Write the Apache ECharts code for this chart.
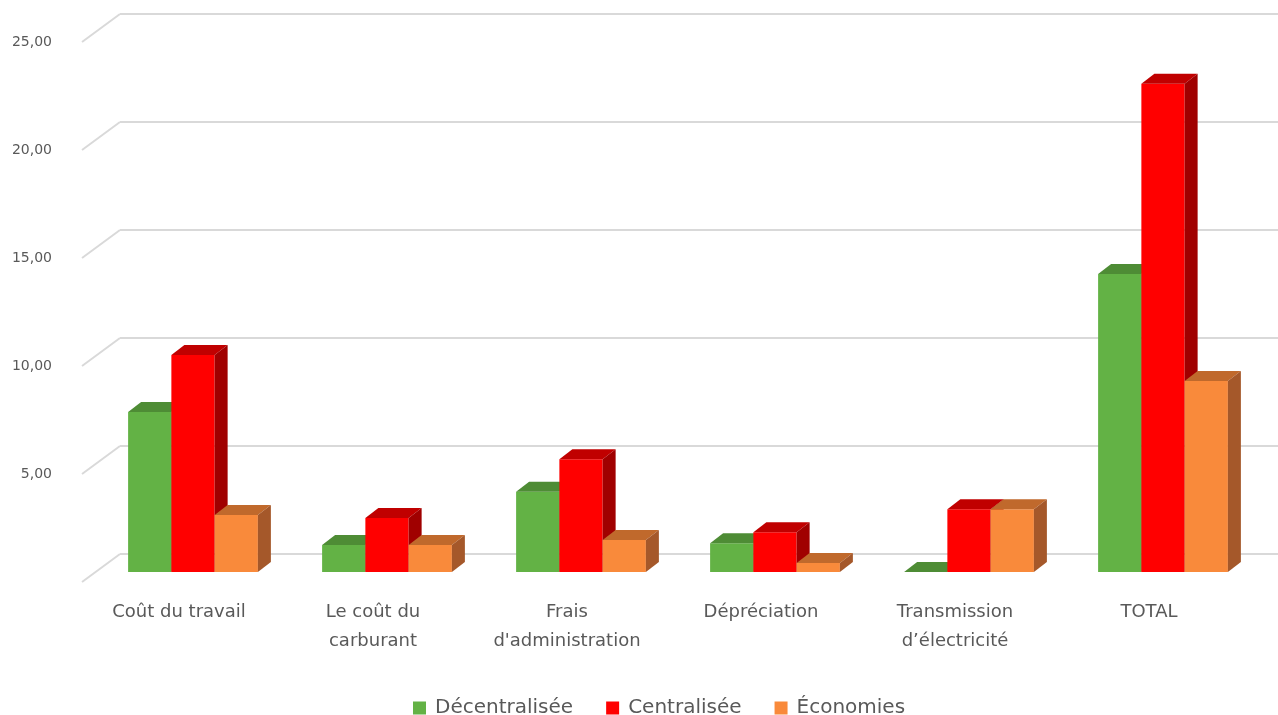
<!DOCTYPE html>
<html>
<head>
<meta charset="utf-8">
<script src="https://cdn.jsdelivr.net/npm/echarts@6/dist/echarts.min.js"></script>
<style>
  html, body { margin: 0; padding: 0; background: #fff; }
  #chart { width: 1278px; height: 715px; }
</style>
</head>
<body>
<div id="chart"></div>
<script>
const categories = ['Coût du travail', 'Le coût du\ncarburant', 'Frais\nd\'administration', 'Dépréciation', 'Transmission\nd’électricité', 'TOTAL'];
const decentralisee = [7.41, 1.25, 3.72, 1.33, 0, 13.8];
const centralisee = [10.05, 2.5, 5.22, 1.84, 2.9, 22.6];
const economies = [2.64, 1.25, 1.48, 0.42, 2.9, 8.84];
const yTicks = [0, 5, 10, 15, 20, 25];

// perspective offsets (pixels)
const barShift = [14, -10];
const depth = [13, -10];
const wallShift = [38, -28];

const chart = echarts.init(document.getElementById('chart'));

function bar3d(seriesIndex, front, top, side) {
  return function (params, api) {
    const i = api.value(0);
    const v = api.value(1);
    const band = api.size([1, 0])[0];
    const bw = band * 0.223;
    const c = api.coord([i, v]);
    const b = api.coord([i, 0]);
    const x0 = c[0] + barShift[0] - 1.5 * bw + seriesIndex * bw;
    const x1 = x0 + bw;
    const yt = c[1] + barShift[1];
    const yb = b[1] + barShift[1];
    const dx = depth[0], dy = depth[1];
    return {
      type: 'group',
      children: [
        {
          type: 'rect',
          shape: { x: x0, y: yt, width: bw, height: yb - yt },
          style: { fill: front }
        },
        {
          type: 'polygon',
          shape: { points: [[x0, yt], [x1, yt], [x1 + dx, yt + dy], [x0 + dx, yt + dy]] },
          style: { fill: top }
        },
        {
          type: 'polygon',
          shape: { points: [[x1, yt], [x1 + dx, yt + dy], [x1 + dx, yb + dy], [x1, yb]] },
          style: { fill: side }
        }
      ]
    };
  };
}

const option = {
  animation: false,
  textStyle: { fontFamily: 'DejaVu Sans' },
  legend: {
    top: 693,
    left: 408,
    itemWidth: 13,
    itemHeight: 13,
    itemGap: 33,
    icon: 'rect',
    textStyle: { fontSize: 20, color: '#595959', padding: [0, 0, 0, 4] },
    data: [
      { name: 'Décentralisée', itemStyle: { color: '#63b245' } },
      { name: 'Centralisée', itemStyle: { color: '#ff0000' } },
      { name: 'Économies', itemStyle: { color: '#f98a3b' } }
    ]
  },
  grid: [
    { left: 82, right: 32, top: 42, bottom: 133 },
    { left: 120, right: 0, top: 14, bottom: 161 }
  ],
  xAxis: [
    {
      gridIndex: 0,
      type: 'category',
      data: categories,
      axisLine: { show: false },
      axisTick: { show: false },
      axisLabel: { interval: 0, fontSize: 18, lineHeight: 29, color: '#595959', margin: 16 }
    },
    {
      gridIndex: 1,
      type: 'category',
      data: categories,
      show: false
    }
  ],
  yAxis: [
    {
      gridIndex: 0,
      type: 'value',
      min: 0,
      max: 25,
      interval: 5,
      splitLine: { show: false },
      axisLine: { show: false },
      axisTick: { show: false },
      axisLabel: {
        fontSize: 14,
        color: '#595959',
        margin: 30,
        formatter: v => (v === 0 ? '' : v.toFixed(2).replace('.', ','))
      }
    },
    {
      gridIndex: 1,
      type: 'value',
      min: 0,
      max: 25,
      interval: 5,
      axisLine: { show: false },
      axisTick: { show: false },
      axisLabel: { show: false },
      splitLine: { lineStyle: { color: '#d9d9d9', width: 2 } }
    }
  ],
  series: [
    {
      type: 'custom',
      xAxisIndex: 0,
      yAxisIndex: 0,
      silent: true,
      z: 1,
      data: yTicks.map(t => [0, t]),
      renderItem: function (params, api) {
        const band = api.size([1, 0])[0];
        const p = api.coord([api.value(0), api.value(1)]);
        const x = p[0] - band / 2;
        return {
          type: 'line',
          shape: { x1: x, y1: p[1], x2: x + wallShift[0], y2: p[1] + wallShift[1] },
          style: { stroke: '#d9d9d9', lineWidth: 2 }
        };
      }
    },
    {
      name: 'Décentralisée',
      type: 'custom',
      xAxisIndex: 0,
      yAxisIndex: 0,
      z: 3,
      itemStyle: { color: '#63b245' },
      data: decentralisee.map((v, i) => [i, v]),
      renderItem: bar3d(0, '#63b245', '#4e8c35', '#4a8530')
    },
    {
      name: 'Centralisée',
      type: 'custom',
      xAxisIndex: 0,
      yAxisIndex: 0,
      z: 4,
      itemStyle: { color: '#ff0000' },
      data: centralisee.map((v, i) => [i, v]),
      renderItem: bar3d(1, '#ff0000', '#c00000', '#a00000')
    },
    {
      name: 'Économies',
      type: 'custom',
      xAxisIndex: 0,
      yAxisIndex: 0,
      z: 5,
      itemStyle: { color: '#f98a3b' },
      data: economies.map((v, i) => [i, v]),
      renderItem: bar3d(2, '#f98a3b', '#c0692c', '#a5582a')
    }
  ]
};

chart.setOption(option);
</script>
</body>
</html>
